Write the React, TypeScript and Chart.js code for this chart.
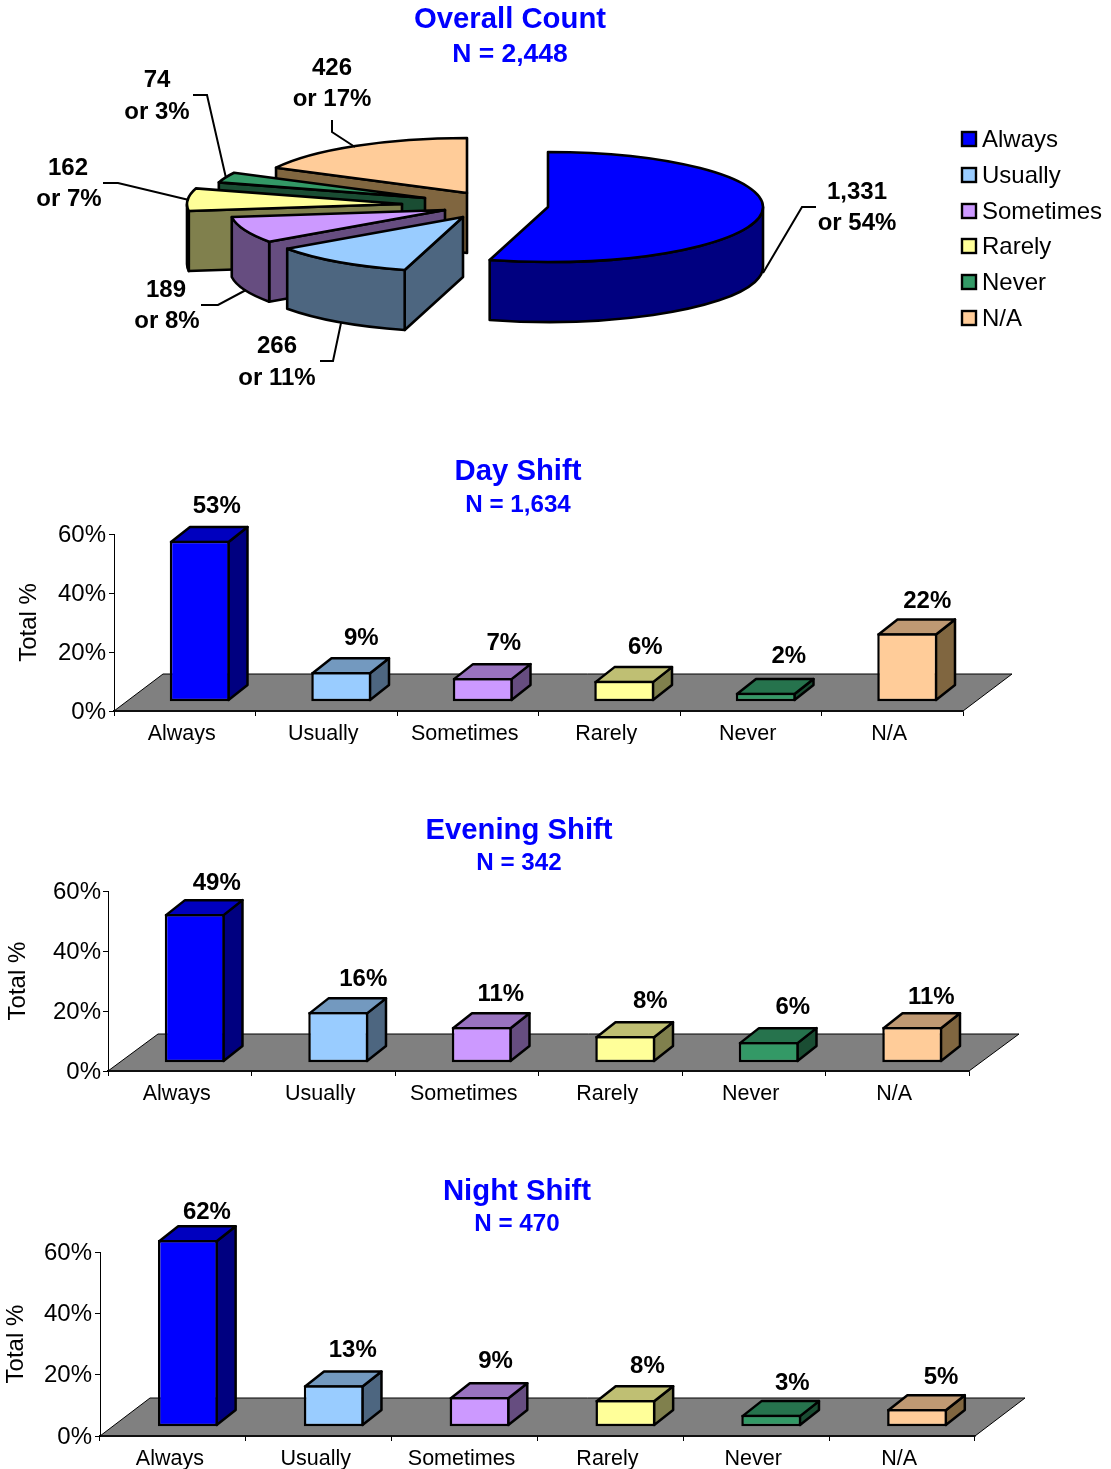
import React, { useEffect, useRef } from "react";
import Chart from "chart.js/auto";

const categories = ["Always", "Usually", "Sometimes", "Rarely", "Never", "N/A"];
const overallCounts = [1331, 266, 189, 162, 74, 426];
const dayValues = [53, 9, 7, 6, 2, 22];
const eveningValues = [49, 16, 11, 8, 6, 11];
const nightValues = [62, 13, 9, 8, 3, 5];
const yTicks = [0, 20, 40, 60];

const frontColors = ["#0000FF", "#99CCFF", "#CC99FF", "#FFFF99", "#339966", "#FFCC99"];
const topColors = ["#0000BF", "#7399BF", "#9973BF", "#BFBF73", "#26734D", "#BF9973"];
const sideColors = ["#000080", "#4D6680", "#664D80", "#80804D", "#1A4D33", "#806640"];

const FONT = "'Liberation Sans', Arial, sans-serif";
const BLUE = "#0000FF";
const CANVAS_W = 1111;

Chart.defaults.font.family = FONT;
Chart.defaults.color = "#000";

// Layout of the pie, in page pixels.
const PIE_RX = 215;
const PIE_RY = 55;
const PIE_DEPTH = 60;
const pieCentres = [
  [548, 207],
  [463, 217],
  [445, 210],
  [402, 204],
  [425, 198],
  [467, 193],
];
const pieLabelPos = [
  [857, 192, 857, 223],
  [277, 346, 277, 378],
  [166, 290, 167, 321],
  [68, 168, 69, 199],
  [157, 80, 157, 112],
  [332, 68, 332, 99],
];
const pieLeaders = [
  [[763, 273], [802, 207], [816, 207]],
  [[320, 361], [333, 361], [341, 323]],
  [[201, 305], [218, 305], [246, 290]],
  [[103, 183], [118, 183], [189, 200]],
  [[193, 95], [207, 95], [226, 178]],
  [[332, 120], [332, 132], [355, 147]],
];
const legendRows = [139, 175, 211, 246, 282, 318];

function path(ctx: CanvasRenderingContext2D, pts: number[][]) {
  ctx.beginPath();
  pts.forEach((p, i) => (i ? ctx.lineTo(p[0], p[1]) : ctx.moveTo(p[0], p[1])));
}

// Centre the title and subtitle on a given x instead of on the plot area.
const titlePlace = {
  id: "titlePlace",
  beforeDraw(chart: any, _a: any, opts: any) {
    chart.boxes.forEach((b: any) => {
      if (b.options && typeof b.options.text === "string") {
        b.left = opts.centre - 400;
        b.right = opts.centre + 400;
      }
    });
  },
};

const piePlugin = {
  id: "pie3d",
  beforeDatasetsDraw(chart: any) {
    const ctx: CanvasRenderingContext2D = chart.ctx;
    const meta = chart.getDatasetMeta(0);
    const values: number[] = chart.data.datasets[0].data;
    const total = values.reduce((a, b) => a + b, 0);
    ctx.save();
    ctx.lineWidth = 2.6;
    ctx.lineJoin = "round";
    ctx.strokeStyle = "#000";

    [5, 4, 3, 2, 1, 0].forEach((i) => {
      const { startAngle: a0, endAngle: a1 } = meta.data[i];
      const [cx, cy] = pieCentres[i];
      const pt = (a: number, d = 0) => [
        cx + PIE_RX * Math.cos(a),
        cy + PIE_RY * Math.sin(a) + d,
      ];
      ctx.fillStyle = sideColors[i];
      // cut faces that look towards the viewer
      if (Math.cos(a1) > 0.001) {
        path(ctx, [[cx, cy], pt(a1), pt(a1, PIE_DEPTH), [cx, cy + PIE_DEPTH]]);
        ctx.closePath();
        ctx.fill();
        ctx.stroke();
      }
      if (Math.cos(a0) < -0.001) {
        path(ctx, [[cx, cy], pt(a0), pt(a0, PIE_DEPTH), [cx, cy + PIE_DEPTH]]);
        ctx.closePath();
        ctx.fill();
        ctx.stroke();
      }
      // outer wall
      const w0 = Math.max(a0, 0);
      const w1 = Math.min(a1, Math.PI);
      if (w1 > w0) {
        ctx.beginPath();
        ctx.ellipse(cx, cy, PIE_RX, PIE_RY, 0, w0, w1);
        ctx.ellipse(cx, cy + PIE_DEPTH, PIE_RX, PIE_RY, 0, w1, w0, true);
        ctx.closePath();
        ctx.fill();
        ctx.stroke();
      }
      // top
      ctx.fillStyle = frontColors[i];
      ctx.beginPath();
      ctx.moveTo(cx, cy);
      ctx.ellipse(cx, cy, PIE_RX, PIE_RY, 0, a0, a1);
      ctx.closePath();
      ctx.fill();
      ctx.stroke();
    });

    // leader lines
    ctx.lineWidth = 2;
    ctx.lineJoin = "miter";
    pieLeaders.forEach((pts) => {
      path(ctx, pts);
      ctx.stroke();
    });

    // slice labels
    ctx.fillStyle = "#000";
    ctx.font = `bold 24px ${FONT}`;
    ctx.textAlign = "center";
    ctx.textBaseline = "middle";
    values.forEach((v, i) => {
      const [x1, y1, x2, y2] = pieLabelPos[i];
      ctx.fillText(v.toLocaleString("en-US"), x1, y1);
      ctx.fillText(`or ${Math.round((v / total) * 100)}%`, x2, y2);
    });

    // legend
    ctx.font = `24px ${FONT}`;
    ctx.textAlign = "left";
    ctx.lineWidth = 2.4;
    chart.data.labels.forEach((label: string, i: number) => {
      const y = legendRows[i];
      ctx.fillStyle = frontColors[i];
      ctx.fillRect(962, y - 7, 14, 14);
      ctx.strokeRect(962, y - 7, 14, 14);
      ctx.fillStyle = "#000";
      ctx.fillText(label, 982, y + 1);
    });
    ctx.restore();
    return false;
  },
};

const BAR_SHIFT_X = 15;
const BACK_X = 19;
const BACK_Y = 15;
const BAR_STROKE = 2.5;

const barPlugin = {
  id: "bar3d",
  beforeDatasetsDraw(chart: any, _a: any, opts: any) {
    const ctx: CanvasRenderingContext2D = chart.ctx;
    const { left, right, bottom } = chart.chartArea;
    ctx.save();
    ctx.fillStyle = "#808080";
    ctx.strokeStyle = "#000";
    ctx.lineWidth = 1;
    path(ctx, [
      [left, bottom],
      [left + opts.floorX, bottom - opts.floorY],
      [right + opts.floorX, bottom - opts.floorY],
      [right, bottom],
    ]);
    ctx.closePath();
    ctx.fill();
    ctx.stroke();
    ctx.lineWidth = 1.5;
    path(ctx, [[left, bottom], [right, bottom]]);
    ctx.stroke();
    ctx.restore();

    ctx.save();
    ctx.translate(BAR_SHIFT_X, -opts.barLift);
    ctx.lineWidth = BAR_STROKE;
    ctx.lineJoin = "round";
    ctx.strokeStyle = "#000";
    const inset = BAR_STROKE / 2;
    chart.getDatasetMeta(0).data.forEach((el: any, i: number) => {
      const L = el.x - el.width / 2 + inset;
      const R = el.x + el.width / 2 - inset;
      const T = el.y + inset;
      const B = el.base - inset;
      ctx.fillStyle = sideColors[i];
      path(ctx, [[R, T], [R + BACK_X, T - BACK_Y], [R + BACK_X, B - BACK_Y], [R, B]]);
      ctx.closePath();
      ctx.fill();
      ctx.stroke();
      ctx.fillStyle = topColors[i];
      path(ctx, [[L, T], [L + BACK_X, T - BACK_Y], [R + BACK_X, T - BACK_Y], [R, T]]);
      ctx.closePath();
      ctx.fill();
      ctx.stroke();
    });
  },
  afterDatasetsDraw(chart: any, _a: any, opts: any) {
    const ctx: CanvasRenderingContext2D = chart.ctx;
    ctx.restore();
    ctx.save();
    ctx.fillStyle = "#000";
    ctx.font = `bold 24px ${FONT}`;
    ctx.textAlign = "center";
    ctx.textBaseline = "middle";
    const values: number[] = chart.data.datasets[0].data;
    chart.getDatasetMeta(0).data.forEach((el: any, i: number) => {
      const [nx, ny] = opts.labelNudge[i];
      ctx.fillText(
        `${values[i]}%`,
        el.x + BAR_SHIFT_X + nx,
        el.y - opts.barLift - BACK_Y + ny + 2
      );
    });
    ctx.restore();
  },
};

function titleOpts(text: string, size: number, bottom: number) {
  return {
    display: true,
    text,
    color: BLUE,
    font: { size, weight: "bold", lineHeight: 1.2, family: FONT },
    padding: { top: 0, bottom },
  };
}

type BarProps = {
  title: string;
  sub: string;
  values: number[];
  top: number;
  height: number;
  axisLeft: number;
  axisRight: number;
  titleCentre: number;
  titleGap: number;
  subGap: number;
  barMax: number;
  barPct: number;
  barLift: number;
  floorX: number;
  floorY: number;
  titlePad: number;
  tickPad: number;
  labelNudge: number[][];
};

function BarPanel(p: BarProps) {
  const ref = useRef<HTMLCanvasElement>(null);
  useEffect(() => {
    const title = titleOpts(p.title, 29.3, p.titleGap);
    title.padding.top = 2;
    const chart = new Chart(ref.current as HTMLCanvasElement, {
      type: "bar",
      data: {
        labels: categories,
        datasets: [
          {
            data: p.values,
            yAxisID: "barY",
            base: -0.84,
            backgroundColor: frontColors,
            borderColor: "#000",
            borderWidth: BAR_STROKE,
            borderSkipped: false,
            categoryPercentage: 1,
            barPercentage: p.barPct,
            clip: false,
          } as any,
        ],
      },
      options: {
        responsive: false,
        animation: false,
        maintainAspectRatio: false,
        events: [],
        layout: { padding: { left: 0, right: CANVAS_W - p.axisRight, top: 0, bottom: 0 } },
        scales: {
          x: {
            offset: true,
            grid: { drawOnChartArea: false, drawTicks: true, tickLength: 5, color: "#000", offset: true },
            border: { color: "#000", width: 1.5 },
            ticks: {
              font: { size: 21.5 },
              color: "#000",
              padding: 5,
              labelOffset: -3,
              maxRotation: 0,
              autoSkip: false,
            },
            afterFit: (s: any) => {
              s.height = 33;
            },
          },
          y: {
            min: yTicks[0],
            max: yTicks[yTicks.length - 1],
            afterBuildTicks: (s: any) => {
              s.ticks = yTicks.map((value) => ({ value }));
            },
            grid: { drawOnChartArea: false, drawTicks: true, tickLength: 5, color: "#000" },
            border: { color: "#000", width: 1 },
            ticks: {
              font: { size: 24 },
              color: "#000",
              padding: p.tickPad,
              labelOffset: 1,
              callback: (v: any) => `${v}%`,
            },
            title: {
              display: true,
              text: "Total %",
              color: "#000",
              font: { size: 24, lineHeight: 1.2 },
              padding: { top: p.titlePad, bottom: 0 },
            },
            afterFit: (s: any) => {
              s.width = p.axisLeft;
            },
          },
          barY: { display: false, min: 0, max: p.barMax },
        },
        plugins: {
          legend: { display: false },
          tooltip: { enabled: false },
          title,
          subtitle: titleOpts(p.sub, 24.2, p.subGap),
          titlePlace: { centre: p.titleCentre },
          bar3d: {
            barLift: p.barLift,
            floorX: p.floorX,
            floorY: p.floorY,
            labelNudge: p.labelNudge,
          },
        } as any,
      } as any,
      plugins: [titlePlace as any, barPlugin as any],
    });
    return () => chart.destroy();
  }, []);
  return (
    <canvas
      ref={ref}
      width={CANVAS_W}
      height={p.height}
      style={{ position: "absolute", left: 0, top: p.top, display: "block" }}
    />
  );
}

function PiePanel() {
  const ref = useRef<HTMLCanvasElement>(null);
  useEffect(() => {
    const title = titleOpts("Overall Count", 29.3, 2);
    title.padding.top = 2;
    const chart = new Chart(ref.current as HTMLCanvasElement, {
      type: "pie",
      data: {
        labels: categories,
        datasets: [{ data: overallCounts, backgroundColor: frontColors, borderColor: "#000" }],
      },
      options: {
        responsive: false,
        animation: false,
        maintainAspectRatio: false,
        events: [],
        plugins: {
          legend: { display: false },
          tooltip: { enabled: false },
          title,
          subtitle: titleOpts("N = 2,448", 26.5, 4),
          titlePlace: { centre: 510 },
        } as any,
      } as any,
      plugins: [titlePlace as any, piePlugin as any],
    });
    return () => chart.destroy();
  }, []);
  return (
    <canvas
      ref={ref}
      width={CANVAS_W}
      height={430}
      style={{ position: "absolute", left: 0, top: 0, display: "block" }}
    />
  );
}

export default function App() {
  return (
    <div
      style={{
        position: "absolute",
        left: 0,
        top: 0,
        width: 1111,
        height: 1469,
        overflow: "hidden",
        background: "#fff",
      }}
    >
      <PiePanel />
      <BarPanel
        title="Day Shift"
        sub="N = 1,634"
        values={dayValues}
        top={452}
        height={292}
        axisLeft={114}
        axisRight={963}
        titleCentre={518}
        titleGap={2}
        subGap={13.8}
        barMax={59.4}
        barPct={0.424}
        barLift={12.25}
        floorX={49}
        floorY={37}
        titlePad={15}
        tickPad={3}
        labelNudge={[[17, -21], [20, -21], [21, -22], [21, -20], [23, -23], [20, -19]]}
      />
      <BarPanel
        title="Evening Shift"
        sub="N = 342"
        values={eveningValues}
        top={811}
        height={293}
        axisLeft={108}
        axisRight={969}
        titleCentre={519}
        titleGap={1}
        subGap={13}
        barMax={60.4}
        barPct={0.418}
        barLift={11.25}
        floorX={50}
        floorY={37}
        titlePad={4}
        tickPad={2}
        labelNudge={[[22, -18], [25, -20], [19, -20], [25, -22], [24, -22], [19, -17]]}
      />
      <BarPanel
        title="Night Shift"
        sub="N = 470"
        values={nightValues}
        top={1172}
        height={297}
        axisLeft={100}
        axisRight={975}
        titleCentre={517}
        titleGap={1}
        subGap={13}
        barMax={62}
        barPct={0.411}
        barLift={12.25}
        floorX={50}
        floorY={38}
        titlePad={2}
        tickPad={3}
        labelNudge={[[19, -15], [19, -22], [16, -23], [22, -21], [21, -18], [24, -19]]}
      />
    </div>
  );
}
